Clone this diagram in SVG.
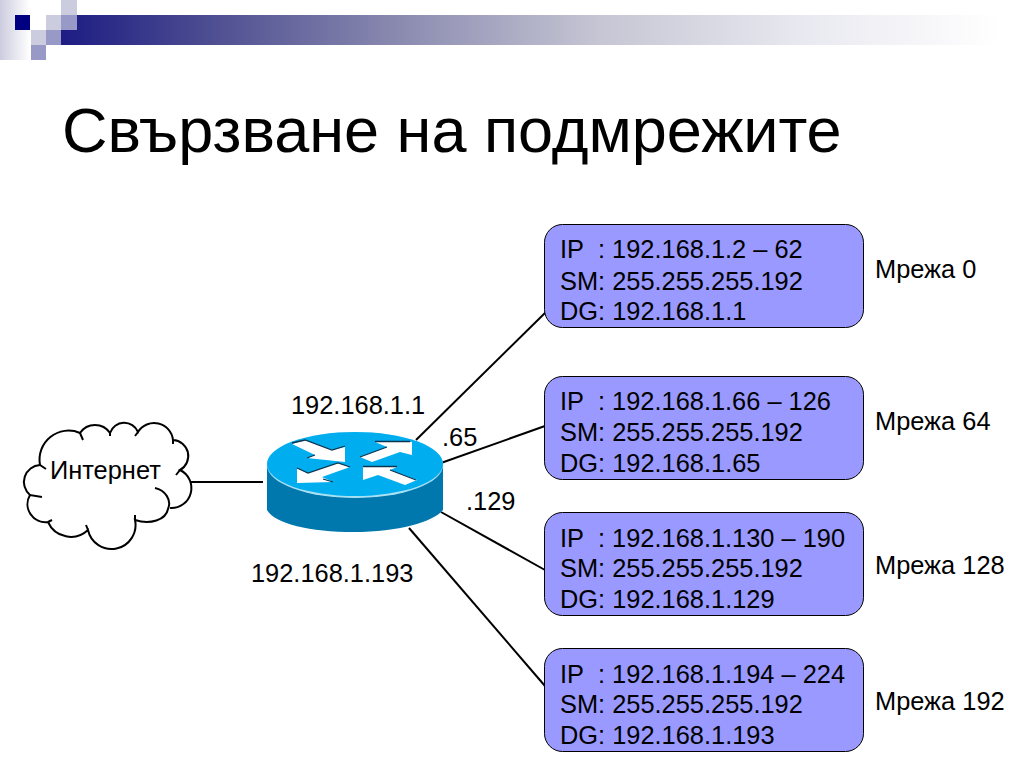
<svg xmlns="http://www.w3.org/2000/svg" width="1024" height="768" viewBox="0 0 1024 768">
<style>
text{font-family:"Liberation Sans",Arial,sans-serif;fill:#000}
.t{font-size:25.4px}
.b{fill:#9999ff;stroke:#000;stroke-width:1}
.l{stroke:#000;stroke-width:2;fill:none}
</style>
<defs>
<linearGradient id="bar" x1="0" x2="1" y1="0" y2="0"><stop offset="0" stop-color="#1c1c84"/><stop offset="0.144" stop-color="#4a4a90"/><stop offset="0.35" stop-color="#8a8ab0"/><stop offset="0.56" stop-color="#c6c6d4"/><stop offset="0.767" stop-color="#e8e8f0"/><stop offset="0.975" stop-color="#ffffff"/></linearGradient>
<linearGradient id="side" x1="0" x2="1" y1="0" y2="0"><stop offset="0" stop-color="#ccccdf"/><stop offset="1" stop-color="#ffffff"/></linearGradient>
</defs>
<g id="header">
<rect x="0" y="0" width="30" height="60" fill="url(#side)"/>
<rect x="61" y="15" width="963" height="30" fill="url(#bar)"/>
<rect x="15" y="15" width="15" height="15" fill="#000080"/>
<rect x="46" y="15" width="15" height="15" fill="#ccccdf"/>
<rect x="61" y="0" width="16" height="15" fill="#ccccdf"/>
<rect x="61" y="15" width="16" height="15" fill="#9999c8"/>
<rect x="31" y="30" width="15" height="15" fill="#ccccdf"/>
<rect x="46" y="30" width="15" height="15" fill="#9999c8"/>
<rect x="31" y="45" width="15" height="15" fill="#9999c8"/>
</g>
<text id="title" x="62" y="152" font-size="63">Свързване на подмрежите</text>
<g id="connectors">
<line class="l" x1="190" y1="482" x2="263" y2="482"/>
<line class="l" x1="416" y1="440" x2="546" y2="312"/>
<line class="l" x1="441" y1="463" x2="545" y2="426"/>
<line class="l" x1="441" y1="512" x2="545" y2="570"/>
<line class="l" x1="409" y1="528" x2="545" y2="686"/>
</g>
<g id="cloud">
<path d="M30 495 A17 17 0 0 1 40 465 A29 29 0 0 1 80 433 A18 18 0 0 1 110 433 A15 15 0 0 1 138 432 A19 19 0 0 1 173 440 A16 16 0 0 1 180 470 A20 20 0 0 1 170 508" fill="none" stroke="#000" stroke-width="2"/>
<path d="M155 488 C165 490 172 500 168 509 C166 520 150 525 135 520 A24 24 0 0 1 88 530 A25 25 0 0 1 48 522 A18 18 0 0 1 30 495 L42 497 M40 465 L46 469 M80 433 L83 440 M110 433 L110 436 M138 432 L135 436 M173 440 L173 444 M180 470 L176 475 M135 520 L135 515 M88 530 L86 525 M48 522 L52 520" fill="none" stroke="#000" stroke-width="2"/>
<text x="50" y="479" class="t">Интернет</text>
</g>
<g id="router">
<path d="M267 466 V510 C275 524 310 532 354 532 C398 532 433 522 443 510 V466 Z" fill="#0077ad"/>
<ellipse cx="355" cy="465" rx="88" ry="33" fill="#a8e0f4"/>
<ellipse cx="355" cy="464" rx="88" ry="32" fill="#00aef0"/>
<g fill="#fff">
<path d="M292 444 L305 440 L333 450 L345 447 V462 L307 458 L315 455 Z"/>
<path d="M375 442 H412 V455 L400 452 L372 462 L360 457 L387 447 Z"/>
<path d="M297 468 L308 473 L338 463 L350 467 L322 477 L333 482 L297 483 Z"/>
<path d="M363 467 H397 L390 470 L417 480 L405 485 L378 475 L363 480 Z"/>
</g>
<path d="M292 443 L305 440 L332 450 L345 446 M307 458 L315 455 M375 441.500 H410 M360 457 L387 447 M297 468 L308 473 L338 463 L350 467 M323 479 L333 482 M363 466.500 H397 M390 470 L416 480" fill="none" stroke="#0c3450" stroke-width="1.300"/>
</g>
<g id="net0">
<rect class="b" x="544.500" y="224.500" width="319" height="103" rx="18"/>
<text class="t" x="560" y="258">IP</text><text class="t" x="598" y="258">: 192.168.1.2 – 62</text>
<text class="t" x="560" y="290">SM: 255.255.255.192</text>
<text class="t" x="560" y="320">DG: 192.168.1.1</text>
<text class="t" x="875" y="278">Мрежа 0</text>
</g>
<g id="net64">
<rect class="b" x="544.500" y="376.500" width="319" height="103" rx="18"/>
<text class="t" x="560" y="410">IP</text><text class="t" x="598" y="410">: 192.168.1.66 – 126</text>
<text class="t" x="560" y="441">SM: 255.255.255.192</text>
<text class="t" x="560" y="472">DG: 192.168.1.65</text>
<text class="t" x="875" y="430">Мрежа 64</text>
</g>
<g id="net128">
<rect class="b" x="544.500" y="512.500" width="319" height="103" rx="18"/>
<text class="t" x="560" y="547">IP</text><text class="t" x="598" y="547">: 192.168.1.130 – 190</text>
<text class="t" x="560" y="577">SM: 255.255.255.192</text>
<text class="t" x="560" y="608">DG: 192.168.1.129</text>
<text class="t" x="875" y="574">Мрежа 128</text>
</g>
<g id="net192">
<rect class="b" x="544.500" y="648.500" width="319" height="103" rx="18"/>
<text class="t" x="560" y="683">IP</text><text class="t" x="598" y="683">: 192.168.1.194 – 224</text>
<text class="t" x="560" y="713">SM: 255.255.255.192</text>
<text class="t" x="560" y="744">DG: 192.168.1.193</text>
<text class="t" x="875" y="710">Мрежа 192</text>
</g>
<g id="labels">
<text class="t" x="291" y="414">192.168.1.1</text>
<text class="t" x="442" y="446">.65</text>
<text class="t" x="466" y="510">.129</text>
<text class="t" x="251" y="582">192.168.1.193</text>
</g>
</svg>
